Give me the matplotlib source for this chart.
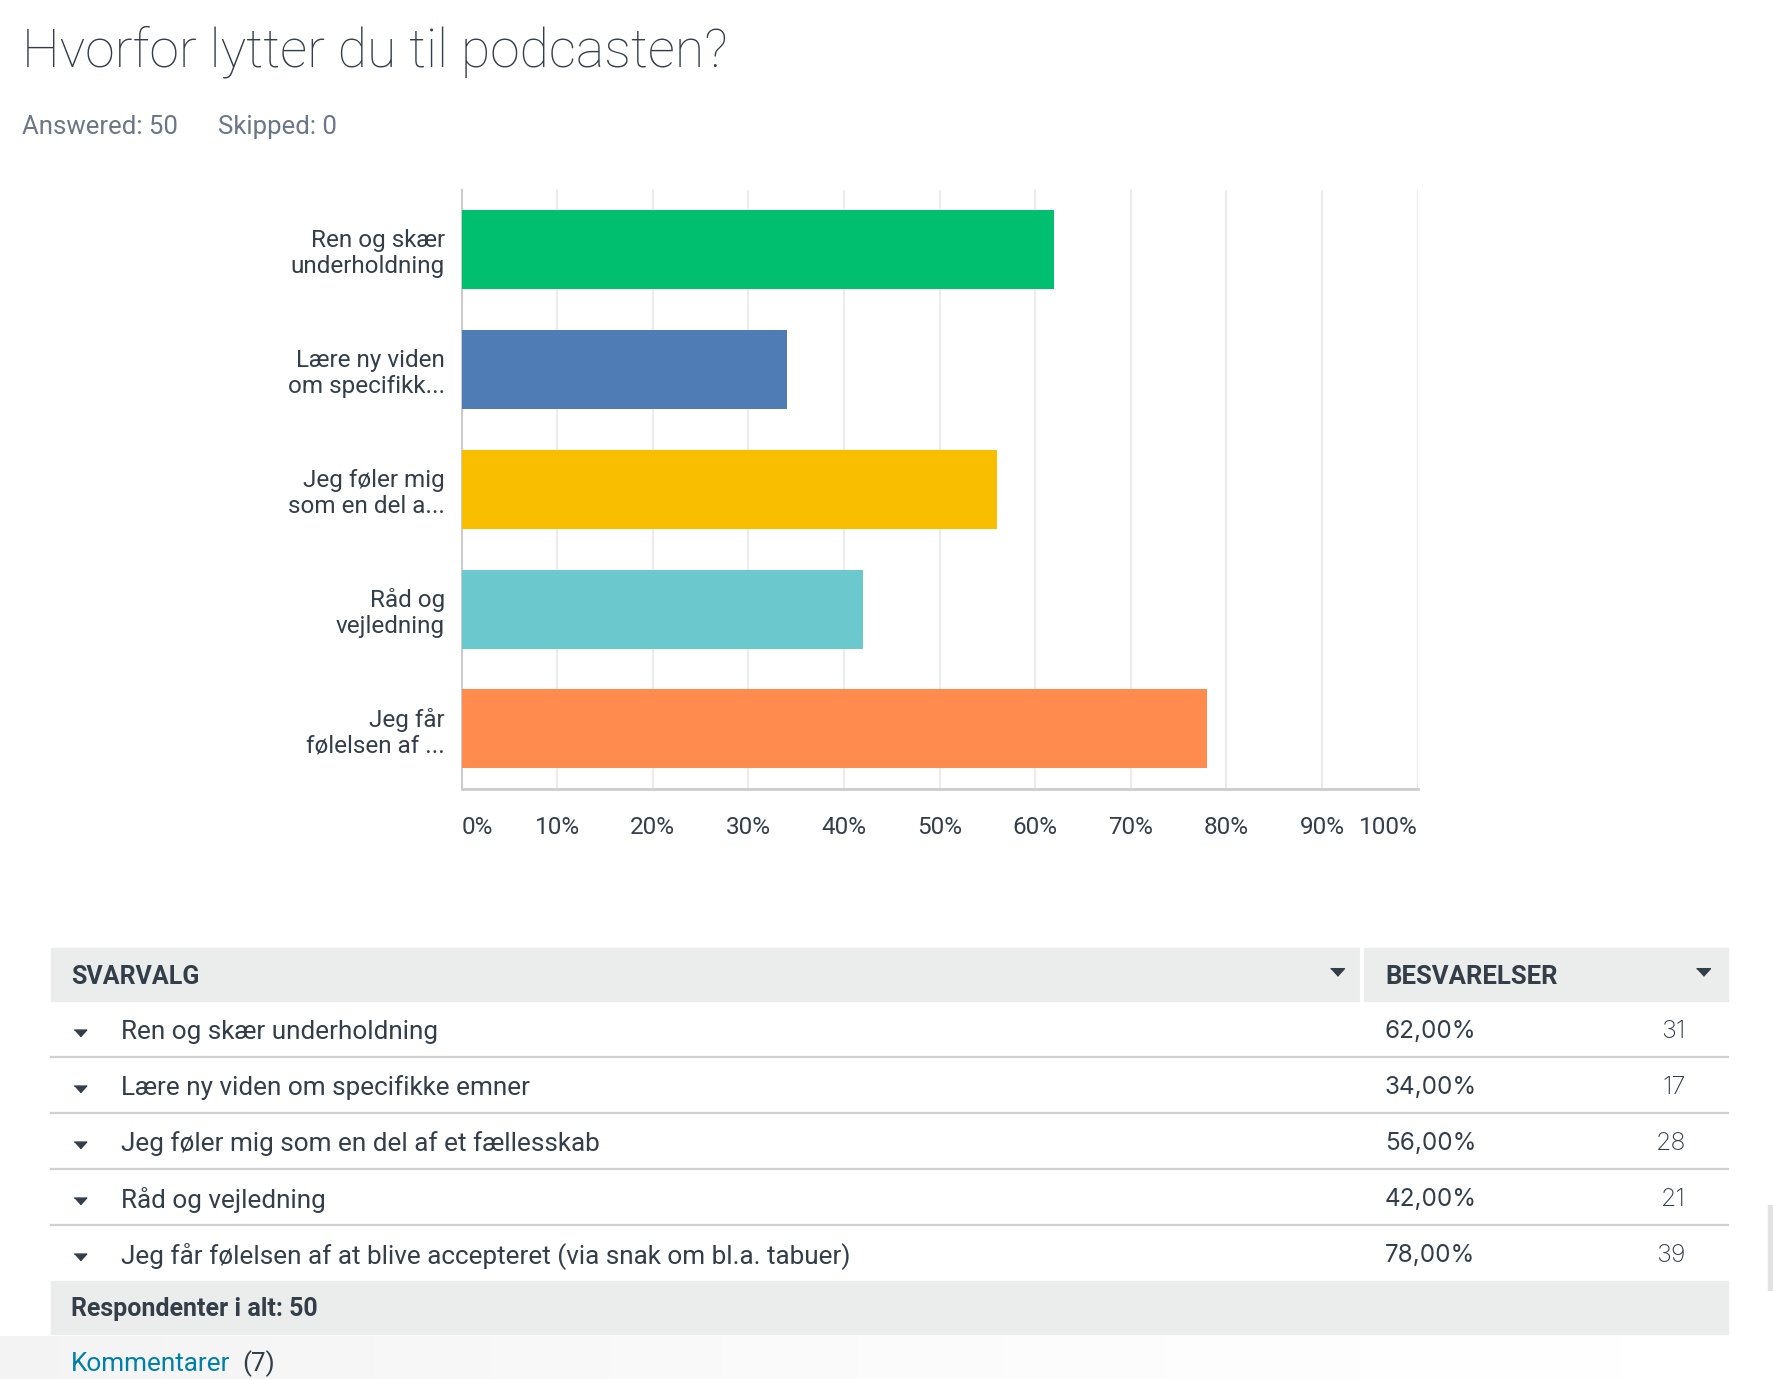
import numpy as np
import matplotlib.pyplot as plt
from matplotlib.patches import Rectangle

plt.rcParams['font.family'] = ['Roboto', 'DejaVu Sans']

# survey data
short_labels = ["Ren og skær\nunderholdning", "Lære ny viden\nom specifikk...",
                "Jeg føler mig\nsom en del a...", "Råd og\nvejledning",
                "Jeg får\nfølelsen af ..."]
full_labels = ["Ren og skær underholdning", "Lære ny viden om specifikke emner",
               "Jeg føler mig som en del af et fællesskab", "Råd og vejledning",
               "Jeg får følelsen af at blive accepteret (via snak om bl.a. tabuer)"]
percent = [62, 34, 56, 42, 78]
counts = [31, 17, 28, 21, 39]
bar_colors = ['#00bf6f', '#507cb6', '#f9be00', '#6bc8cd', '#ff8b4f']
ticks = list(range(0, 101, 10))
answered = 50
skipped = 0
n_comments = 7

W, H = 1774, 1379
dark = '#333e48'
caret = [(-1, 0.55), (1, 0.55), (0, -0.55)]
fig = plt.figure(figsize=(W / 100, H / 100), dpi=100)

# background layer in pixel coords for the page and table
bg = fig.add_axes([0, 0, 1, 1], zorder=0)
bg.set_xlim(0, W)
bg.set_ylim(H, 0)
bg.axis('off')

# soft page shadow at the bottom
grad = np.linspace(1, 0, 200)[None, :] ** 1.5
bg.imshow(np.dstack([np.full_like(grad, 0.9)] * 3 + [grad * 0.45]),
          extent=(0, 1700, H, 1336), aspect='auto', zorder=0)
bg.add_patch(Rectangle((1768, 1205), 6, 85, color='#e2e2e2', zorder=1))

bg.text(22, 52, "Hvorfor lytter du til podcasten?", fontsize=38.5, fontweight='light',
        color=dark, va='center', ha='left')
bg.text(22, 127, f"Answered: {answered}", fontsize=18.5, color='#6b7787', va='center')
bg.text(218, 127, f"Skipped: {skipped}", fontsize=18.5, color='#6b7787', va='center')

# table
x0, x1, xdiv = 51, 1728, 1362
head_top, head_h, row_h = 948, 53, 56
bg.add_patch(Rectangle((x0, head_top), x1 - x0, head_h, color='#ebeded', zorder=1))
bg.plot([xdiv, xdiv], [head_top, head_top + head_h], color='white', lw=3, zorder=2)
hy = head_top + head_h / 2 + 2
bg.text(71, hy, "SVARVALG", fontsize=18, fontweight='bold', color=dark, va='center')
bg.text(1385, hy, "BESVARELSER", fontsize=18.5, fontweight='bold', color=dark, va='center')
bg.plot([1337, 1703], [hy - 5, hy - 5], ls='none', marker=caret, ms=10, color=dark, zorder=3)

rows_top = head_top + head_h
for i, (lab, p, c) in enumerate(zip(full_labels, percent, counts)):
    cy = rows_top + row_h * (i + 0.5) + 3
    bg.plot(80, cy + 1, marker=caret, ms=9, color=dark, zorder=3)
    bg.text(121, cy, lab, fontsize=18.8, color=dark, va='center')
    bg.text(1385, cy, f"{p:.2f}%".replace('.', ','), fontsize=17.5, color=dark,
            va='center', family=['Inter', 'DejaVu Sans'])
    bg.text(1686, cy, str(c), fontsize=18, color=dark, va='center', ha='right',
            family=['Inter', 'DejaVu Sans'], fontweight='light')
    if i < len(full_labels) - 1:
        yl = rows_top + row_h * (i + 1)
        bg.plot([x0, x1], [yl, yl], color='#d0d0d0', lw=1.6, zorder=2)

foot_top = rows_top + row_h * len(full_labels)
bg.add_patch(Rectangle((x0, foot_top), x1 - x0, 53, color='#ebeded', zorder=1))
bg.text(71, foot_top + 28, f"Respondenter i alt: {answered}", fontsize=18,
        fontweight='bold', color=dark, va='center')
bg.text(71, 1364, "Kommentarer", fontsize=18.8, color='#007faa', va='center')
bg.text(242, 1364, f"({n_comments})", fontsize=18.8, color=dark, va='center')

# bar chart
ax = fig.add_axes([461.6 / W, 1 - 788.6 / H, 956.1 / W, 598.6 / H], zorder=2)
ax.patch.set_alpha(0)
y = np.arange(len(percent))
ax.barh(y, percent, height=0.66, color=bar_colors, zorder=3)
ax.set_xlim(0, 100)
ax.set_ylim(len(percent) - 0.5, -0.5)
ax.set_yticks(y)
ax.set_yticklabels(short_labels, fontsize=17.5, color=dark, linespacing=1.15)
ax.set_xticks(ticks)
ax.set_xticklabels([f"{t}%" for t in ticks], fontsize=17.5, color=dark)
ax.tick_params(axis='both', length=0)
ax.tick_params(axis='y', pad=12)
ax.tick_params(axis='x', pad=20)
labels = ax.get_xticklabels()
labels[0].set_ha('left')
labels[-1].set_ha('right')
for s in ['top', 'right']:
    ax.spines[s].set_visible(False)
ax.spines['left'].set_color('#cccccc')
ax.spines['left'].set_linewidth(1.5)
ax.spines['bottom'].set_color('#cccccc')
ax.spines['bottom'].set_linewidth(2)
for t in ticks[1:]:
    ax.axvline(t, color='#ebebeb', lw=1.5, zorder=1)

fig.savefig('out.png', dpi=100)
